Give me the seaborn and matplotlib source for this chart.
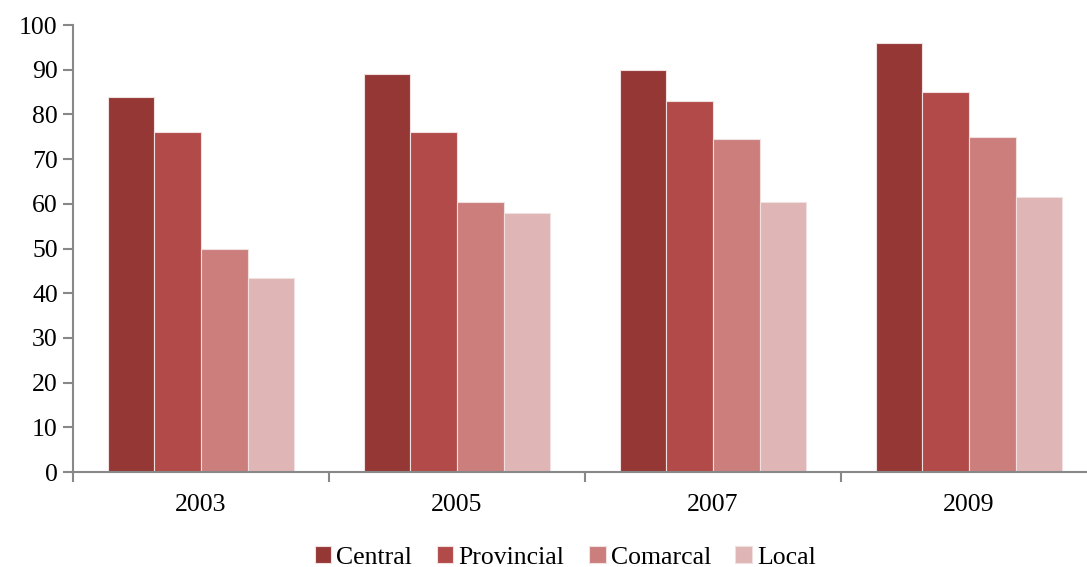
import pandas as pd
import matplotlib
matplotlib.use('Agg')
import matplotlib.pyplot as plt
import seaborn as sns

# datos
years = ['2003', '2005', '2007', '2009']
central = [84, 89, 90, 96]
provincial = [76, 76, 83, 85]
comarcal = [50, 60.5, 74.5, 75]
local = [43.5, 58, 60.5, 61.5]
series = ['Central', 'Provincial', 'Comarcal', 'Local']
colors = ['#953735', '#B14A48', '#CB7E7C', '#DFB5B5']

df = pd.DataFrame({'year': years, 'Central': central, 'Provincial': provincial,
                   'Comarcal': comarcal, 'Local': local})
df = df.melt(id_vars='year', var_name='tipo', value_name='valor')

sns.set_style('white')
plt.rcParams['font.family'] = ['Liberation Serif', 'DejaVu Serif']
plt.rcParams['text.color'] = 'black'
plt.rcParams['xtick.labelcolor'] = 'black'
plt.rcParams['ytick.labelcolor'] = 'black'

fig = plt.figure(figsize=(10.87, 5.67), dpi=100)
ax = fig.add_axes([0.0672, 0.1675, 0.942, 0.7884])
sns.barplot(data=df, x='year', y='valor', hue='tipo', hue_order=series,
            palette=colors, width=0.73, saturation=1, ax=ax,
            edgecolor='#f0e0e0', linewidth=0.8, legend=True)

ax.set_xlim(-0.5, 3.5)
ax.set_ylim(0, 100)
ax.set_yticks(range(0, 101, 10))
ax.set_xlabel('')
ax.set_ylabel('')
for s in ['top', 'right']:
    ax.spines[s].set_visible(False)
for s in ['left', 'bottom']:
    ax.spines[s].set_color('#888888')
    ax.spines[s].set_linewidth(1.5)
ax.tick_params(axis='y', left=True, length=7, width=1.5, color='#888888',
               labelsize=18.5, pad=4)
ax.tick_params(axis='x', which='major', bottom=False, labelsize=18.5, pad=12)
ax.set_xticks([-0.5, 0.5, 1.5, 2.5], minor=True)
ax.tick_params(axis='x', which='minor', bottom=True, length=7, width=1.5,
               color='#888888')

ax.legend_.remove()
handles, labels = ax.get_legend_handles_labels()
fig.legend(handles, labels, loc='center', bbox_to_anchor=(0.52, 0.017), ncol=4,
           frameon=False, fontsize=18.5, handlelength=0.65, handleheight=0.65,
           handletextpad=0.2, columnspacing=0.95)

fig.savefig('out.png', dpi=100)
